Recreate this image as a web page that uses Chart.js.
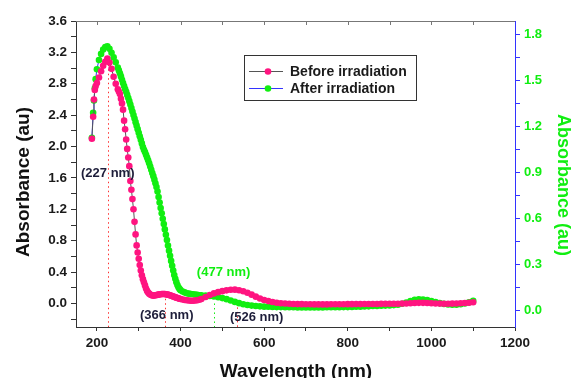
<!DOCTYPE html>
<html>
<head>
<meta charset="utf-8">
<script src="https://cdn.jsdelivr.net/npm/chart.js@4.4.1/dist/chart.umd.min.js"></script>
<style>
  html, body { margin: 0; padding: 0; background: #fff; }
  canvas { display: block; }
</style>
</head>
<body>
<canvas id="uvChart" width="574" height="378"></canvas>
<script>
// wavelength (nm) shared by both spectra
const wavelengths = [
  188, 191, 193, 195, 197,
  200, 205, 210, 215, 220, 225, 230, 235, 240, 245,
  250, 252.5, 255, 257.5, 260, 262.5, 265, 267.5, 270, 272.5,
  275, 277.5, 280, 282.5, 285, 287.5, 290, 292.5, 295, 297.5,
  300, 302.5, 305, 307.5, 310, 312.5, 315, 317.5, 320, 322.5,
  325, 327.5, 330, 332.5, 335, 337.5, 340, 342.5, 345, 347.5,
  350, 352.5, 355, 357.5, 360, 362.5, 365, 367.5, 370, 372.5,
  375, 377.5, 380, 382.5, 385, 387.5, 390, 392.5, 395, 397.5,
  400, 405, 410, 415, 420, 425, 430, 435, 440, 445, 450,
  460, 470, 480, 490, 500, 510, 520, 530, 540, 550,
  560, 570, 580, 590, 600, 610, 620, 630, 640, 650,
  660, 670, 680, 690, 700, 710, 720, 730, 740, 750,
  760, 770, 780, 790, 800, 810, 820, 830, 840, 850,
  860, 870, 880, 890, 900, 910, 920, 930, 940, 950,
  960, 970, 980, 990, 1000, 1010, 1020, 1030, 1040, 1050,
  1060, 1070, 1080, 1090, 1100
];

// Before irradiation (left axis)
const beforeAbs = [
  2.10, 2.38, 2.60, 2.72, 2.77,
  2.81, 2.88, 2.96, 3.03, 3.08, 3.12, 3.07, 2.99, 2.89, 2.80,
  2.73, 2.70, 2.67, 2.61, 2.55, 2.47, 2.33, 2.22, 2.09, 1.97,
  1.86, 1.75, 1.56, 1.45, 1.33, 1.20, 1.04, 0.88, 0.74, 0.65,
  0.57, 0.49, 0.42, 0.36, 0.31, 0.27, 0.23, 0.19, 0.16, 0.14,
  0.125, 0.115, 0.107, 0.102, 0.100, 0.101, 0.104, 0.107, 0.110, 0.113,
  0.116, 0.118, 0.120, 0.121, 0.121, 0.120, 0.118, 0.115, 0.112, 0.108,
  0.104, 0.099, 0.094, 0.089, 0.084, 0.079, 0.074, 0.069, 0.065, 0.061,
  0.057, 0.050, 0.045, 0.040, 0.037, 0.035, 0.035, 0.037, 0.041, 0.048, 0.057,
  0.082, 0.108, 0.128, 0.144, 0.157, 0.167, 0.174, 0.176, 0.169, 0.156,
  0.136, 0.112, 0.087, 0.064, 0.045, 0.030, 0.018, 0.009, 0.003, -0.001,
  -0.004, -0.006, -0.008, -0.009, -0.010, -0.011, -0.012, -0.012, -0.012, -0.012,
  -0.011, -0.011, -0.010, -0.010, -0.009, -0.009, -0.008, -0.008, -0.007, -0.007,
  -0.006, -0.006, -0.005, -0.005, -0.004, -0.004, -0.003, -0.002, 0.000, 0.003,
  0.006, 0.008, 0.008, 0.006, 0.003, 0.000, -0.002, -0.003, -0.003, -0.002,
  0.000, 0.002, 0.005, 0.009, 0.015
];

// After irradiation (right axis)
const afterAbs = [
  1.127, 1.29, 1.37, 1.45, 1.51,
  1.575, 1.635, 1.675, 1.703, 1.720, 1.724, 1.708, 1.682, 1.652, 1.620,
  1.585, 1.567, 1.548, 1.528, 1.506, 1.485, 1.465, 1.446, 1.427, 1.407,
  1.387, 1.366, 1.344, 1.321, 1.298, 1.275, 1.252, 1.229, 1.206, 1.183,
  1.160, 1.137, 1.114, 1.090, 1.066, 1.048, 1.033, 1.016, 0.998, 0.980,
  0.960, 0.939, 0.918, 0.897, 0.876, 0.853, 0.830, 0.805, 0.775, 0.740,
  0.703, 0.668, 0.633, 0.598, 0.563, 0.528, 0.493, 0.458, 0.423, 0.389,
  0.355, 0.322, 0.290, 0.259, 0.230, 0.205, 0.183, 0.165, 0.150, 0.139,
  0.131, 0.122, 0.116, 0.111, 0.108, 0.106, 0.104, 0.102, 0.100, 0.098, 0.097,
  0.095, 0.093, 0.089, 0.084, 0.079, 0.072, 0.063, 0.054, 0.046, 0.039,
  0.034, 0.030, 0.027, 0.025, 0.023, 0.022, 0.021, 0.020, 0.020, 0.019,
  0.019, 0.019, 0.018, 0.018, 0.018, 0.018, 0.018, 0.018, 0.018, 0.019,
  0.019, 0.019, 0.019, 0.020, 0.020, 0.021, 0.022, 0.023, 0.024, 0.025,
  0.027, 0.028, 0.029, 0.030, 0.031, 0.033, 0.036, 0.042, 0.050, 0.059,
  0.067, 0.071, 0.070, 0.066, 0.060, 0.053, 0.046, 0.041, 0.037, 0.035,
  0.036, 0.039, 0.044, 0.051, 0.062
];

const seriesNames = ['Before irradiation', 'After irradiation'];

// axis ticks
const xMajorTicks = [200, 400, 600, 800, 1000, 1200];
const xMinorTicks = [300, 500, 700, 900, 1100];
const leftMajorTicks = [0.0, 0.4, 0.8, 1.2, 1.6, 2.0, 2.4, 2.8, 3.2, 3.6];
const leftMinorTicks = [-0.2, 0.2, 0.6, 1.0, 1.4, 1.8, 2.2, 2.6, 3.0, 3.4];
const rightMajorTicks = [0.0, 0.3, 0.6, 0.9, 1.2, 1.5, 1.8];
const rightMinorTicks = [0.15, 0.45, 0.75, 1.05, 1.35, 1.65];

// peak markers
const peakNm = [226, 364, 480, 534];
const peakLabels = ['(227 nm)', '(366 nm)', '(477 nm)', '(526 nm)'];

const FONT = "'Liberation Sans', Arial, sans-serif";
const PINK = '#ff1480';
const GREEN = '#11ee11';
const BLUE = '#3333ff';

function near(list, v) {
  return list.some(t => Math.abs(t - v) < 1e-6);
}
function tickObjs(a, b) {
  return a.concat(b).sort((p, q) => p - q).map(v => ({ value: v }));
}

// annotation layout (data units: nm, left-axis value)
const peakLineTop = [3.10, 0.06, 0.0, -0.05];
const peakLineColor = ['#ff3030', '#ff3030', GREEN, '#ff3030'];
const peakTextPos = [[226, 1.656], [367, -0.153], [503, 0.395], [582, -0.178]];
const peakTextColor = ['#1e1e3a', '#1e1e3a', GREEN, '#1e1e3a'];

const decorPlugin = {
  id: 'decor',
  beforeDatasetsDraw(chart) {
    const { ctx, chartArea, scales } = chart;
    const x = scales.x, y = scales.y;
    ctx.save();
    // top frame line with inward ticks
    ctx.strokeStyle = '#777';
    ctx.lineWidth = 1;
    ctx.beginPath();
    ctx.moveTo(chartArea.left, chartArea.top + 0.5);
    ctx.lineTo(chartArea.right, chartArea.top + 0.5);
    xMajorTicks.concat(xMinorTicks).forEach(v => {
      const px = Math.round(x.getPixelForValue(v)) + 0.5;
      if (px < chartArea.right - 1) {
        ctx.moveTo(px, chartArea.top);
        ctx.lineTo(px, chartArea.top + 4);
      }
    });
    ctx.stroke();

    // dotted peak lines
    ctx.setLineDash([1.5, 3]);
    peakNm.forEach((nm, i) => {
      const px = Math.round(x.getPixelForValue(nm)) + 0.5;
      ctx.strokeStyle = peakLineColor[i];
      ctx.beginPath();
      ctx.moveTo(px, y.getPixelForValue(peakLineTop[i]));
      ctx.lineTo(px, chartArea.bottom);
      ctx.stroke();
    });
    ctx.restore();
  },
  afterDraw(chart) {
    const { ctx, scales } = chart;
    const x = scales.x, y = scales.y;
    ctx.save();
    // peak labels
    ctx.font = 'bold 13px ' + FONT;
    ctx.textAlign = 'center';
    ctx.textBaseline = 'middle';
    peakLabels.forEach((t, i) => {
      ctx.fillStyle = peakTextColor[i];
      ctx.fillText(t, x.getPixelForValue(peakTextPos[i][0]), y.getPixelForValue(peakTextPos[i][1]));
    });

    // legend box
    const lx = 244, ly = 55, lw = 172, lh = 45;
    ctx.fillStyle = '#fff';
    ctx.fillRect(lx, ly, lw, lh);
    ctx.strokeStyle = '#333';
    ctx.lineWidth = 1;
    ctx.strokeRect(lx + 0.5, ly + 0.5, lw, lh);
    const rows = [
      { y: ly + 16, line: '#555', dot: PINK },
      { y: ly + 33, line: BLUE, dot: GREEN }
    ];
    ctx.font = 'bold 14px ' + FONT;
    ctx.textAlign = 'left';
    rows.forEach((r, i) => {
      ctx.strokeStyle = r.line;
      ctx.beginPath();
      ctx.moveTo(lx + 5, r.y + 0.5);
      ctx.lineTo(lx + 39, r.y + 0.5);
      ctx.stroke();
      ctx.fillStyle = r.dot;
      ctx.beginPath();
      ctx.arc(lx + 24, r.y + 0.5, 3.3, 0, Math.PI * 2);
      ctx.fill();
      ctx.fillStyle = '#1a1a1a';
      ctx.fillText(seriesNames[i], lx + 46, r.y + 1);
    });

    // axis titles
    ctx.font = 'bold 19px ' + FONT;
    ctx.fillStyle = '#111';
    ctx.textAlign = 'center';
    ctx.textBaseline = 'alphabetic';
    ctx.fillText('Wavelength (nm)', 296, 377);

    ctx.textBaseline = 'middle';
    ctx.save();
    ctx.translate(24, 182);
    ctx.rotate(-Math.PI / 2);
    ctx.fillText('Absorbance (au)', 0, 0);
    ctx.restore();

    ctx.save();
    ctx.font = 'bold 18px ' + FONT;
    ctx.fillStyle = GREEN;
    ctx.translate(563, 185);
    ctx.rotate(Math.PI / 2);
    ctx.fillText('Absorbance (au)', 0, 0);
    ctx.restore();
    ctx.restore();
  }
};

const tickFont = { family: FONT, size: 13.5, weight: 'bold' };

new Chart(document.getElementById('uvChart').getContext('2d'), {
  type: 'line',
  data: {
    datasets: [{
      label: seriesNames[0],
      data: wavelengths.map((w, i) => ({ x: w, y: beforeAbs[i] })),
      yAxisID: 'y',
      borderColor: '#555',
      borderWidth: 1,
      pointRadius: 3.3,
      pointBorderWidth: 0,
      pointBackgroundColor: PINK,
      tension: 0
    }, {
      label: seriesNames[1],
      data: wavelengths.map((w, i) => ({ x: w, y: afterAbs[i] })),
      yAxisID: 'y2',
      borderColor: BLUE,
      borderWidth: 1,
      pointRadius: 3.3,
      pointBorderWidth: 0,
      pointBackgroundColor: GREEN,
      tension: 0
    }]
  },
  options: {
    responsive: false,
    animation: false,
    devicePixelRatio: 1,
    layout: { padding: { top: 21, left: 0, right: 0, bottom: 0 } },
    plugins: { legend: { display: false }, tooltip: { enabled: false } },
    scales: {
      x: {
        type: 'linear',
        min: 150,
        max: 1200,
        afterFit: s => { s.height = 51; },
        afterBuildTicks: s => { s.ticks = tickObjs(xMajorTicks, xMinorTicks); },
        border: { display: true, color: '#333', width: 1 },
        grid: { drawOnChartArea: false, tickLength: 4, tickColor: '#333' },
        ticks: {
          autoSkip: false,
          maxRotation: 0,
          padding: 4,
          color: '#1a1a1a',
          font: tickFont,
          callback: v => near(xMajorTicks, v) ? String(v) : ''
        }
      },
      y: {
        position: 'left',
        min: -0.3,
        max: 3.6,
        afterFit: s => { s.width = 76; },
        afterBuildTicks: s => { s.ticks = tickObjs(leftMajorTicks, leftMinorTicks); },
        border: { display: true, color: '#333', width: 1 },
        grid: { drawOnChartArea: false, tickLength: 5, tickColor: '#333' },
        ticks: {
          autoSkip: false,
          padding: 4,
          color: '#1a1a1a',
          font: tickFont,
          callback: v => near(leftMajorTicks, v) ? v.toFixed(1) : ''
        }
      },
      y2: {
        position: 'right',
        min: -0.11,
        max: 1.89,
        afterFit: s => { s.width = 59; },
        afterBuildTicks: s => { s.ticks = tickObjs(rightMajorTicks, rightMinorTicks); },
        border: { display: true, color: BLUE, width: 1 },
        grid: { drawOnChartArea: false, tickLength: 5, tickColor: BLUE },
        ticks: {
          autoSkip: false,
          padding: 4,
          color: GREEN,
          font: { family: FONT, size: 13, weight: 'bold' },
          callback: v => near(rightMajorTicks, v) ? v.toFixed(1) : ''
        }
      }
    }
  },
  plugins: [decorPlugin]
});
</script>
</body>
</html>
